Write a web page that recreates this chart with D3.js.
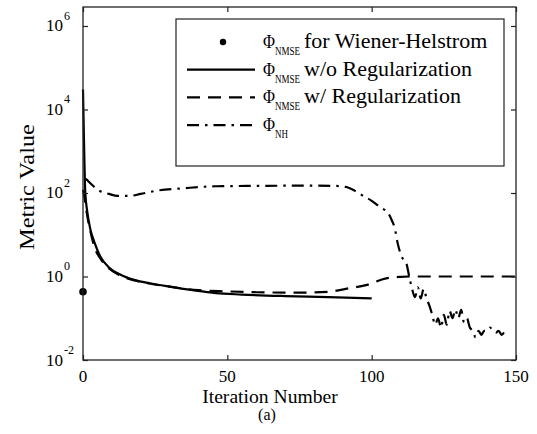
<!DOCTYPE html>
<html>
<head>
<meta charset="utf-8">
<script src="https://cdn.jsdelivr.net/npm/d3@7"></script>
<style>
  html, body { margin: 0; padding: 0; background: #fff; }
  text { font-family: "Liberation Serif", "Times New Roman", serif; fill: #000; }
</style>
</head>
<body>
<script>
// ---------- data ----------
const xTickValues = [0, 50, 100, 150];
const xTickLabels = ["0", "50", "100", "150"];
const yTickValues = [1e-2, 1e0, 1e2, 1e4, 1e6];
const yTickExponents = ["-2", "0", "2", "4", "6"];

// Phi_NMSE for Wiener-Helstrom (single point)
const whIter = [0];
const whVal = [0.43];

// Phi_NMSE w/o Regularization (solid)
const solidIter = [0, 0.3, 0.8, 1.5, 2.5, 4, 6, 9, 13, 18, 23, 30, 38, 46, 55, 70, 85, 100];
const solidVal  = [30000, 2500, 100, 35, 14, 6.5, 3.0, 1.65, 1.1, 0.82, 0.69, 0.57, 0.47, 0.40, 0.37, 0.34, 0.32, 0.30];

// Phi_NMSE w/ Regularization (dashed)
const dashIter = [0, 0.5, 1, 2, 3, 4, 6, 9, 13, 18, 23, 30, 40, 50, 60, 75, 85, 92, 98, 105, 110, 113, 150];
const dashVal  = [120, 80, 45, 18, 9, 5, 2.7, 1.55, 1.05, 0.8, 0.68, 0.57, 0.47, 0.44, 0.42, 0.41, 0.43, 0.52, 0.62, 0.9, 0.98, 1.0, 1.0];

// Phi_NH (dash-dot)
const nhIter = [1, 3, 6, 9, 12, 16, 20, 26, 35, 46, 60, 75, 87, 91, 94, 96.5, 100, 103, 105.7, 107, 108, 109, 110.4, 112,
  113, 114, 115, 116, 117, 118, 119, 120, 121, 122, 123, 124, 125, 126, 127, 128, 129, 130, 131, 132, 133, 134, 135,
  136, 137, 138, 139, 140, 141, 142, 143, 144, 145, 146, 147];
const nhVal = [220, 160, 110, 95, 85, 85, 95, 115, 130, 145, 148, 150, 148, 140, 115, 90, 65, 45, 33, 22, 14.5, 6.3, 3, 2.1,
  1.0, 0.5, 0.32, 0.55, 0.3, 0.5, 0.3, 0.2, 0.12, 0.07, 0.1, 0.06, 0.12, 0.07, 0.15, 0.1, 0.16, 0.1, 0.16, 0.08, 0.1, 0.06, 0.05,
  0.035, 0.05, 0.04, 0.05, 0.05, 0.06, 0.05, 0.045, 0.05, 0.04, 0.045, 0.04];

const legendSubs = ["NMSE", "NMSE", "NMSE", "NH"];
const legendRest = ["for Wiener-Helstrom", "w/o Regularization", "w/ Regularization", ""];
const xTitle = "Iteration Number";
const yTitle = "Metric Value";
const caption = "(a)";

// ---------- layout ----------
const W = 537, H = 434;
const L = 83, R = 516, T = 7, B = 360;
const FONT = '"Liberation Serif", "Times New Roman", serif';

const svg = d3.select("body").append("svg").attr("width", W).attr("height", H);

const x = d3.scaleLinear().domain([0, 150]).range([L, R]);
const y = d3.scaleLog().domain([1e-2, Math.pow(10, 6.455)]).range([B, T]);

// sx: horizontal scale factor, or if opts.width given, scale to that width
function putText(parent, px, py, str, size, sx, anchor, rot, width) {
  const t = parent.append("text").attr("font-size", size).attr("font-family", FONT).text(str);
  const raw = t.node().getComputedTextLength();
  if (width) sx = width / raw;
  const w = raw * sx;
  let dx = 0;
  if (anchor === "middle") dx = -w / 2;
  else if (anchor === "end") dx = -w;
  if (rot) {
    t.attr("transform", `translate(${px},${py}) rotate(-90) translate(${dx},0) scale(${sx},1)`);
  } else {
    t.attr("transform", `translate(${px + dx},${py}) scale(${sx},1)`);
  }
  return w;
}

// ---------- lines ----------
const plot = svg.append("g");
const line = d3.line().x(d => x(d[0])).y(d => y(d[1])).curve(d3.curveMonotoneX);

plot.append("path").datum(d3.zip(solidIter, solidVal)).attr("d", line)
  .attr("fill", "none").attr("stroke", "#000").attr("stroke-width", 2.2);
plot.append("path").datum(d3.zip(dashIter, dashVal)).attr("d", line)
  .attr("fill", "none").attr("stroke", "#000").attr("stroke-width", 2.2).attr("stroke-dasharray", "13,8");
plot.append("path").datum(d3.zip(nhIter, nhVal)).attr("d", line)
  .attr("fill", "none").attr("stroke", "#000").attr("stroke-width", 2.2).attr("stroke-dasharray", "12,6,2.5,6");
plot.selectAll("circle.wh").data(d3.zip(whIter, whVal)).join("circle")
  .attr("cx", d => x(d[0])).attr("cy", d => y(d[1])).attr("r", 3.8).attr("fill", "#000");

// ---------- axes ----------
const axStroke = "#222";
svg.append("rect").attr("x", L).attr("y", T).attr("width", R - L).attr("height", B - T)
  .attr("fill", "none").attr("stroke", axStroke).attr("stroke-width", 1.3);

function styleAxis(g) {
  g.select(".domain").remove();
  g.selectAll(".tick line").attr("stroke", axStroke).attr("stroke-width", 1.2);
  g.selectAll(".tick text").remove();
}
svg.append("g").attr("transform", `translate(0,${B})`)
  .call(d3.axisBottom(x).tickValues(xTickValues).tickSize(-5)).call(styleAxis);
svg.append("g").attr("transform", `translate(0,${T})`)
  .call(d3.axisTop(x).tickValues(xTickValues).tickSize(-5)).call(styleAxis);
svg.append("g").attr("transform", `translate(${L},0)`)
  .call(d3.axisLeft(y).tickValues(yTickValues).tickSize(-5)).call(styleAxis);
svg.append("g").attr("transform", `translate(${R},0)`)
  .call(d3.axisRight(y).tickValues(yTickValues).tickSize(-5)).call(styleAxis);

// tick labels
xTickValues.forEach((v, i) => putText(svg, x(v), 382, xTickLabels[i], 17, 1, "middle"));
yTickValues.forEach((v, i) => {
  const ty = y(v);
  putText(svg, 63, ty + 5.5, "10", 17, 1, "end");
  putText(svg, 64, ty - 6, yTickExponents[i], 12, 1, "start");
});

// titles
putText(svg, 270, 403, xTitle, 18, 1.09, "middle");
putText(svg, 267, 420, caption, 16, 1, "middle");
putText(svg, 34, 187, yTitle, 21, 1, "middle", true, 126);

// ---------- legend ----------
const lg = svg.append("g");
lg.append("rect").attr("x", 176).attr("y", 19).attr("width", 328).attr("height", 147)
  .attr("fill", "#fff").attr("stroke", axStroke).attr("stroke-width", 1.2);
const rowY = i => 42 + i * 27.7;
const styles = [null, "none", "13,8", "12,6,2.5,6"];
legendSubs.forEach((sub, i) => {
  const ry = rowY(i);
  if (i === 0) {
    lg.append("circle").attr("cx", 223).attr("cy", ry).attr("r", 3.2).attr("fill", "#000");
  } else {
    const p = lg.append("line").attr("x1", 187).attr("x2", 255).attr("y1", ry).attr("y2", ry)
      .attr("stroke", "#000").attr("stroke-width", 2.2);
    if (styles[i] !== "none") p.attr("stroke-dasharray", styles[i]);
  }
  putText(lg, 263, ry + 6, "Φ", 19, 1, "start", false, 12);
  putText(lg, 275, ry + 13, sub, 13, 1, "start", false, sub.length === 4 ? 25 : 13);
  if (legendRest[i]) putText(lg, 304, ry + 6, legendRest[i], 20, 1.1, "start");
});
</script>
</body>
</html>
